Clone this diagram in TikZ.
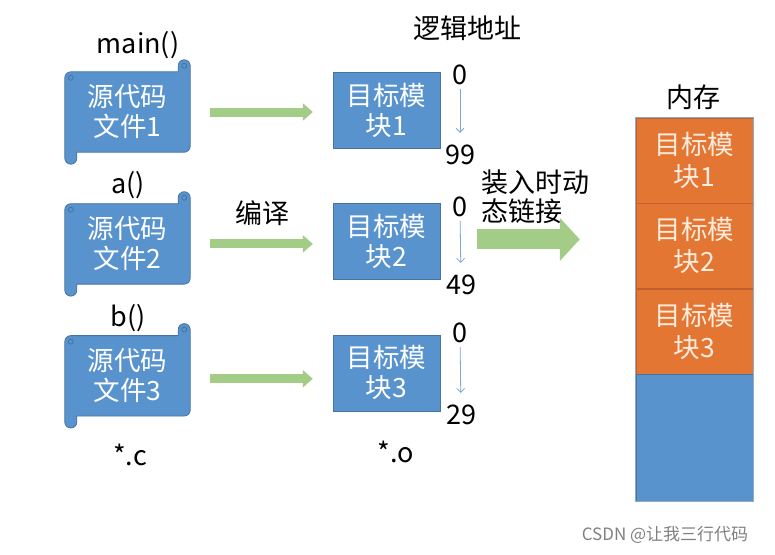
\documentclass[tikz,border=0pt]{standalone}
\usepackage{fontspec}
\setmainfont{Noto Sans CJK SC}
\usetikzlibrary{positioning,calc,arrows.meta,backgrounds}

\definecolor{boxblue}{RGB}{88,147,205}
\definecolor{boxedge}{RGB}{70,115,160}
\definecolor{memorange}{RGB}{228,118,52}
\definecolor{memedge}{RGB}{190,95,45}
\definecolor{arrgreen}{RGB}{163,205,135}
\definecolor{addrblue}{RGB}{125,165,215}
\definecolor{memtext}{RGB}{255,236,222}

\tikzset{
  srcbox/.style={minimum width=125pt, minimum height=80pt, inner sep=0pt,
    text=white, align=center, font=\fontsize{26.5}{30}\selectfont},
  modbox/.style={draw=boxedge, fill=boxblue, minimum width=107pt, minimum height=76pt,
    inner sep=0pt, text=white, align=center, font=\fontsize{26.5}{30}\selectfont},
  memblock/.style={draw=memedge, fill=memorange, minimum width=117pt, minimum height=85pt,
    inner sep=0pt, text=memtext, align=center, font=\fontsize{26.5}{32}\selectfont},
  lbl/.style={inner sep=1pt, font=\fontsize{27}{29}\selectfont},
  compile/.style={arrgreen, line width=9pt, -{Triangle[length=10pt,width=17pt]},
    shorten <=20pt, shorten >=20pt},
  load/.style={arrgreen, line width=20pt, -{Triangle[length=20pt,width=42pt]},
    shorten <=37pt, shorten >=56pt},
  addr/.style={addrblue, line width=0.8pt, -{Straight Barb[length=4pt,width=8pt]},
    shorten <=3pt, shorten >=11pt},
  scrollline/.style={draw=boxedge, fill=boxblue, line width=0.8pt}
}

% scroll drawn behind a text node
\newcommand{\drawscroll}[1]{%
  \begin{pgfonlayer}{background}
  \draw[scrollline] let \p1=(#1.north west), \p2=(#1.south east) in
    (\x1,\y2-6pt) -- (\x1,\y1-6pt) arc[start angle=180,end angle=90,radius=6pt]
    -- (\x2-12pt,\y1) -- (\x2-12pt,\y1+6pt) arc[start angle=180,end angle=0,radius=6pt]
    -- (\x2,\y2+6pt) arc[start angle=0,end angle=-90,radius=6pt]
    -- (\x1+12pt,\y2) -- (\x1+12pt,\y2-6pt) arc[start angle=0,end angle=-180,radius=6pt]
    -- cycle;
  \draw[scrollline] let \p1=(#1.north west), \p2=(#1.south east) in
    (\x2-6pt,\y1+6pt) circle[radius=2.5pt]
    (\x1+6pt,\y1-6pt) circle[radius=2.5pt];
  \end{pgfonlayer}}

\begin{document}
\begin{tikzpicture}[x=1pt,y=-1pt]
    \useasboundingbox (0,0) rectangle (775,554);
    % source files
    \node[srcbox] (src1) at (127.5,112) {源代码\\文件1};
    \node[srcbox] (src2) [below=51.5pt of src1] {源代码\\文件2};
    \node[srcbox] (src3) [below=51.5pt of src2] {源代码\\文件3};
    \drawscroll{src1}
    \drawscroll{src2}
    \drawscroll{src3}
    \node[lbl] (fmain) at (138,45) {main()};
    \node[lbl] (fa) at (128,185) {a()};
    \node[lbl] (fb) at (128,318) {b()};
    \node[lbl] (extc) at (130,455) {*.c};
    % object modules
    \node[modbox] (mod1) at (386.5,110) {目标模\\块1};
    \node[modbox] (mod2) [below=55pt of mod1] {目标模\\块2};
    \node[modbox] (mod3) [below=55pt of mod2] {目标模\\块3};
    \node[lbl] (exto) at (396,452) {*.o};
    \node[lbl] (compiletxt) at (262,213) {编译};
    \node[lbl] (logaddr) at (467,28) {逻辑地址};
    \node[lbl] (a1s) at (460,75) {0};
    \node[lbl] (a1e) at (460,155) {99};
    \node[lbl] (a2s) at (460,207) {0};
    \node[lbl] (a2e) at (461,285) {49};
    \node[lbl] (a3s) at (460,333) {0};
    \node[lbl] (a3e) at (461,415) {29};
    \draw[addr] (a1s) -- (a1e);
    \draw[addr] (a2s) -- (a2e);
    \draw[addr] (a3s) -- (a3e);
    \draw[compile] (src1.east) -- (mod1.west |- src1.east);
    \draw[compile] (src2.east) -- (mod2.west |- src2.east);
    \draw[compile] ([yshift=-3pt]src3.east) -- ([yshift=-3pt]mod3.west |- src3.east);
    % memory
    \node[lbl] (memtxt) at (693,97) {内存};
    \node[memblock] (mb1) at (694.5,160.5) {目标模\\块1};
    \node[memblock] (mb2) [below=0pt of mb1] {目标模\\块2};
    \node[memblock] (mb3) [below=0pt of mb2] {目标模\\块3};
    \node[draw=boxedge, fill=boxblue, minimum width=117pt, minimum height=127pt,
      inner sep=0pt] (mfree) [below=0pt of mb3] {};
    \draw[boxedge!60, line width=0.8pt] (mb1.north west) rectangle (mfree.south east);
    \draw[load] ([yshift=2pt]mod2.east) -- ([yshift=2pt]mb2.west |- mod2.east);
    \node[lbl, align=left] (loadtxt) at (535,197) {装入时动\\态链接};
    \node[text=gray, font=\fontsize{17}{20}\selectfont] (mark) at (665,535) {CSDN @让我三行代码};
\end{tikzpicture}
\end{document}
